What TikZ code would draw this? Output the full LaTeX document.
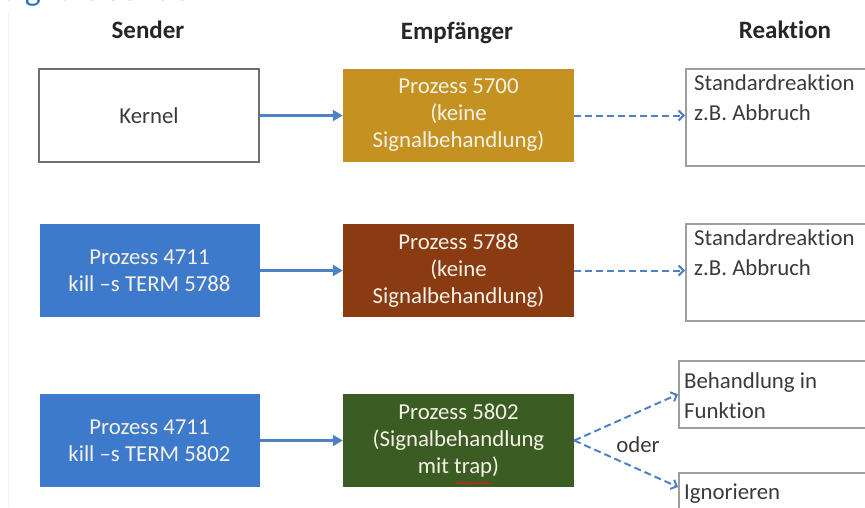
\documentclass[tikz,border=0pt]{standalone}
\usepackage{fontspec}
\setmainfont{Carlito}[Ligatures=NoCommon]
\usepackage{tikz}
\usetikzlibrary{arrows.meta,decorations.pathmorphing}

\definecolor{sigblue}{HTML}{3D7ACB}
\definecolor{siggold}{HTML}{C59222}
\definecolor{sigbrown}{HTML}{8B3B12}
\definecolor{siggreen}{HTML}{3B5D23}
\definecolor{arrblue}{HTML}{4F81C7}
\definecolor{titleblue}{HTML}{2E74C0}
\definecolor{boxtext}{HTML}{F6F2E8}
\definecolor{darktext}{HTML}{3A3A3A}
\definecolor{spellred}{HTML}{D02020}

\begin{document}
\begin{tikzpicture}[x=1pt,y=-1pt,
    font=\fontsize{22.8}{27}\selectfont, text=darktext,
    head/.style={font=\fontsize{25}{30}\selectfont\bfseries, text=black!85},
    sbox/.style={minimum width=220, minimum height=93, inner sep=0, align=center},
    ebox/.style={minimum width=231, minimum height=93, inner sep=0, align=center, text=boxtext},
    rbox/.style={draw=black!38, line width=1.5, minimum width=210, anchor=north west, inner sep=0},
    rtext/.style={anchor=north west, align=left, inner xsep=9, inner ysep=6, font=\fontsize{22.8}{30}\selectfont},
    arr/.style={draw=arrblue, line width=2.2, -{Triangle[length=10,width=11]}},
    darr/.style={draw=arrblue, line width=2, dash pattern=on 7 off 4, -{Straight Barb[length=5,width=10]}}]
  \useasboundingbox (0,0) rectangle (865,507);
  \draw[black!6, line width=1] (8,13) -- (8,507);
  \node[anchor=base west, font=\fontsize{34}{40}\selectfont, text=titleblue] (title) at (-2,0.5) {Signale senden};
  \node[head] (hs) at (148,30) {Sender};
  \node[head] (he) at (457,33) {Empfänger};
  \node[head] (hr) at (785,30) {Reaktion};
  \node[sbox, draw=black!57, line width=2] (k) at (149,115.5) {Kernel};
  \node[sbox, fill=sigblue, text=boxtext] (s2) at (149.5,270.5) {Prozess 4711\\kill –s TERM 5788};
  \node[sbox, fill=sigblue, text=boxtext] (s3) at (149.5,440.5) {Prozess 4711\\kill –s TERM 5802};
  \node[ebox, fill=siggold] (e1) at (458.5,115.5) {Prozess 5700\\(keine\\Signalbehandlung)};
  \node[ebox, fill=sigbrown] (e2) at (458.5,270.5) {Prozess 5788\\(keine\\Signalbehandlung)};
  \node[ebox, fill=siggreen] (e3) at (458.5,440.5) {Prozess 5802\\(Signalbehandlung\\mit trap)};
  \draw[spellred, line width=0.8, decorate, decoration={snake, amplitude=0.9, segment length=3.5}] (455,483) -- (492,483);
  \node[rbox, minimum height=97] (r1) at (685,68) {};
  \node[rtext] (r1t) at (r1.north west) {Standardreaktion\\z.B. Abbruch};
  \node[rbox, minimum height=97] (r2) at (685,223) {};
  \node[rtext] (r2t) at (r2.north west) {Standardreaktion\\z.B. Abbruch};
  \node[rbox, minimum height=67] (r3) at (678,360) {};
  \node[rtext, inner xsep=6, inner ysep=12] (r3t) at (r3.north west) {Behandlung in\\Funktion};
  \node[rbox, minimum height=67] (r4) at (678,472) {};
  \node[rtext, inner xsep=6, inner ysep=12] (r4t) at (r4.north west) {Ignorieren};
  \node (oder) at (638,445) {oder};
  \draw[arr] (k) -- (e1);
  \draw[arr] (s2) -- (e2);
  \draw[arr] (s3) -- (e3);
  \draw[darr] (e1.east) -- (e1.east -| r1.west);
  \draw[darr] (e2.east) -- (e2.east -| r2.west);
  \draw[darr] (e3.east) -- (r3.west);
  \draw[darr] (e3.east) -- ([yshift=-15pt]r4.north west);
\end{tikzpicture}
\end{document}
